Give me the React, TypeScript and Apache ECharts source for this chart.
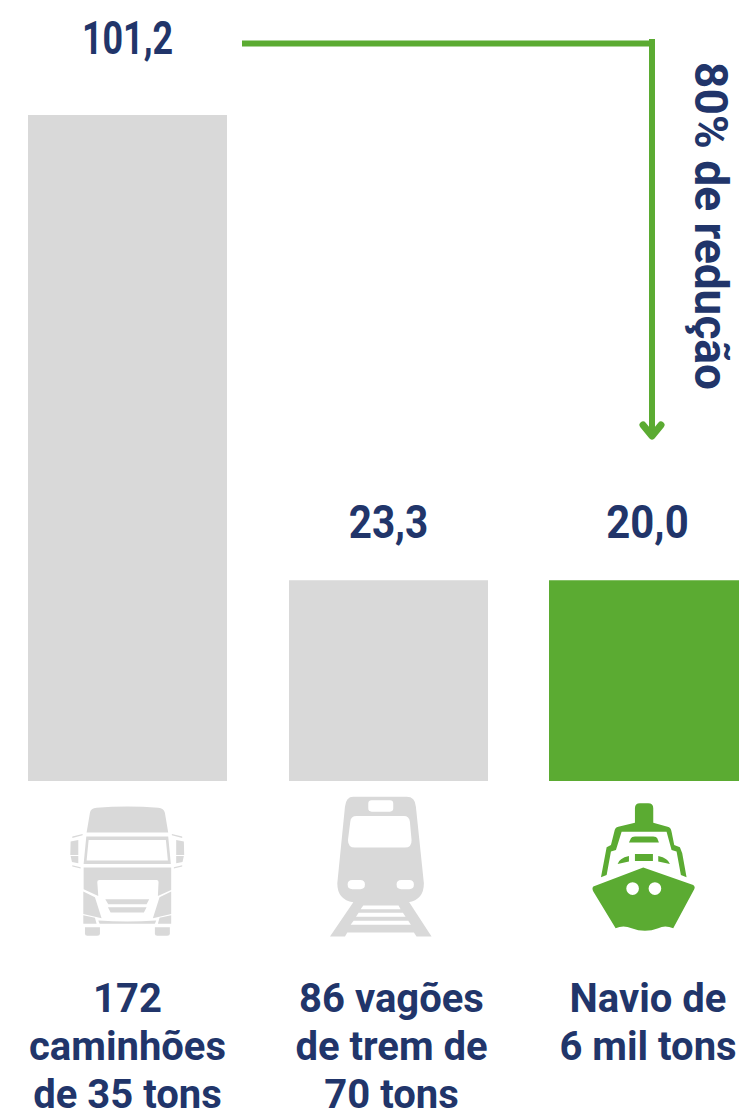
import React, { useEffect, useRef } from "react";
import * as echarts from "echarts";

const categories = ["172\ncaminhões\nde 35 tons", "86 vagões\nde trem de\n70 tons", "Navio de\n6 mil tons"];
const valueLabels = ["101,2", "23,3", "20,0"];
// Bar heights as drawn in the picture (the two short bars are equal there)
const drawnHeights = [101.2, 30.5, 30.5];
const annotation = "80% de redução";

const NAVY = "#21356a";
const GREEN = "#5bab32";
const GRAY = "#d9d9d9";
const FONT = "Roboto";

const truckPath = [
  "M140 128 L150 68 Q152 55 170 53 Q262 46 355 53 Q372 55 375 68 L385 128 Z",
  "M139 140 L385 140 L393 222 L131 222 Z M146 150 L140 212 L384 212 L378 150 Z",
  "M131 233 H394 V300 L354 318 L356 276 Q356 270 350 270 H178 Q172 270 172 276 L175 318 L131 298 Z",
  "M130 305 L165 322 L185 385 L130 372 Z M394 305 L394 372 L339 385 L359 322 Z",
  "M130 376 L165 384 L170 402 L130 402 Z M394 376 L394 402 L354 402 L359 384 Z",
  "M175 392 Q262 398 349 392 L345 402 H179 Z",
  "M196 328 H328 L320 343 H205 Z M204 352 H320 L312 368 H212 Z",
  "M135 412 H180 V432 Q180 438 172 438 H142 Q135 438 135 432 Z M345 412 H390 V432 Q390 438 382 438 H352 Q345 438 345 432 Z",
  "M92 155 L115 150 V195 H91 Z M92 198 H115 V220 L96 216 Z M97 140 L128 132 V136 L97 144 Z M97 226 L122 232 V236 L97 230 Z",
  "M409 150 L432 155 L433 195 H409 Z M409 198 H432 L428 216 L409 220 Z M396 132 L427 140 V144 L396 136 Z M402 232 L427 226 V230 L402 236 Z",
].join(" ");

const trainPath = [
  "M130 35 H290 Q316 35 318 65 L342 295 Q342 345 295 352 H130 Q82 345 82 295 L105 65 Q108 35 130 35 Z",
  "M185 46 Q175 46 175 56 V70 Q175 80 185 80 H240 Q250 80 250 70 V56 Q250 46 240 46 Z",
  "M140 93 Q122 93 121 110 L114 165 Q114 188 135 188 H285 Q306 188 305 165 L300 110 Q298 93 282 93 Z",
  "M127 285 Q113 285 113 299 Q113 313 127 313 H151 Q165 313 165 299 Q165 285 151 285 Z",
  "M274 285 Q260 285 260 299 Q260 313 274 313 H298 Q312 313 312 299 Q312 285 298 285 Z",
  "M130 352 H298 L365 455 H320 L312 443 H112 L105 455 H60 Z",
  "M160 362 L152 373 H272 L266 362 Z M146 384 L138 396 H287 L279 384 Z M131 408 L122 420 H303 L295 408 Z",
].join(" ");

const shipPath = [
  "M180 98 V55 Q180 40 195 40 H220 Q235 40 235 55 V98 L278 110 Q288 112 290 125 L298 165 L315 172 L322 190 L335 262 L318 255 L305 185 L290 180 L275 125 H140 L123 180 L108 185 L95 255 L78 262 L95 172 L108 165 L118 125 Q120 112 130 110 Z",
  "M162 158 L168 145 Q170 140 180 140 H235 Q245 140 247 145 L252 158 Z",
  "M128 222 Q132 205 162 198 V215 Z M180 192 H234 V213 H180 Z M250 198 Q280 205 285 222 L250 215 Z",
  "M55 290 L205 233 L355 285 Q362 290 358 298 L295 415 Q270 405 250 415 Q210 430 170 415 Q145 405 122 415 L55 305 Q50 295 55 290 Z",
  "M192 296 A19 19 0 0 0 154 296 A19 19 0 0 0 192 296 Z M259 296 A19 19 0 0 0 221 296 A19 19 0 0 0 259 296 Z",
].join(" ");

echarts.graphic.registerShape("truckIcon", echarts.graphic.extendPath(truckPath, {}));
echarts.graphic.registerShape("trainIcon", echarts.graphic.extendPath(trainPath, {}));
echarts.graphic.registerShape("shipIcon", echarts.graphic.extendPath(shipPath, {}));

const gridBoxes = [
  { left: 28, width: 199 },
  { left: 289, width: 199 },
  { left: 549, width: 190 },
];
const labelTweak = [
  { distance: 77, dx: 0, squeeze: 0.78, pad: [0, 0, 0, 0] },
  { distance: 58, dx: 0, squeeze: 0.88, pad: [0, 0, 0, 6] },
  { distance: 58, dx: 3.5, squeeze: 0.91, pad: [0, 0, 0, 8] },
];

export default function App() {
  const ref = useRef<HTMLDivElement>(null);
  useEffect(() => {
    document.body.style.margin = "0";
    const chart = echarts.init(ref.current!, undefined, { renderer: "svg" });
    const grids = gridBoxes.map((b) => ({ left: b.left, width: b.width, top: 115, height: 666, outerBoundsMode: "none" }));
    const barSeries = categories.map((_, i) => ({
      type: "bar",
      xAxisIndex: i,
      yAxisIndex: i,
      barWidth: "100%",
      data: [drawnHeights[i]],
      itemStyle: { color: i === 2 ? GREEN : GRAY },
    }));
    const valueSeries = categories.map((_, i) => ({
      type: "custom",
      xAxisIndex: i,
      yAxisIndex: i,
      silent: true,
      data: [[0, drawnHeights[i]]],
      renderItem: (_p: any, api: any) => {
        const top = api.coord([api.value(0), api.value(1)]);
        return {
          type: "text",
          x: top[0] + labelTweak[i].dx,
          y: top[1] - labelTweak[i].distance,
          scaleX: labelTweak[i].squeeze,
          style: {
            text: valueLabels[i],
            fill: NAVY,
            font: `700 46px ${FONT}`,
            textAlign: "center",
            textVerticalAlign: "middle",
          },
        };
      },
    }));
    chart.setOption({
      animation: false,
      grid: grids,
      xAxis: categories.map((c, i) => ({
        type: "category",
        gridIndex: i,
        data: [c],
        axisLine: { show: false },
        axisTick: { show: false },
        axisLabel: {
          interval: 0,
          margin: 193,
          color: NAVY,
          fontFamily: FONT,
          fontWeight: 700,
          fontSize: 40,
          lineHeight: 48,
          padding: labelTweak[i].pad,
        },
      })),
      yAxis: categories.map((_, i) => ({
        type: "value",
        gridIndex: i,
        min: 0,
        max: 101.2,
        show: false,
      })),
      series: [...barSeries, ...valueSeries],
      graphic: [
        { type: "truckIcon", x: 40, y: 790, scaleX: 1 / 3, scaleY: 1 / 3, style: { fill: GRAY } },
        { type: "trainIcon", x: 310, y: 785, scaleX: 1 / 3, scaleY: 1 / 3, style: { fill: GRAY } },
        { type: "shipIcon", x: 575, y: 790, scaleX: 1 / 3, scaleY: 1 / 3, style: { fill: GREEN } },
        { type: "line", shape: { x1: 242, y1: 43.5, x2: 652, y2: 43.5 }, style: { stroke: GREEN, lineWidth: 6 } },
        { type: "line", shape: { x1: 652, y1: 39, x2: 652, y2: 436 }, style: { stroke: GREEN, lineWidth: 6 } },
        {
          type: "polyline",
          shape: { points: [[643, 425], [652, 436], [661, 425]] },
          style: { stroke: GREEN, lineWidth: 7, fill: "none", lineCap: "round", lineJoin: "round" },
        },
        {
          type: "text",
          x: 711,
          y: 226,
          rotation: -Math.PI / 2,
          style: {
            text: annotation,
            fill: NAVY,
            font: `700 46px ${FONT}`,
            textAlign: "center",
            textVerticalAlign: "middle",
          },
        },
      ],
    });
    return () => chart.dispose();
  }, []);
  return <div ref={ref} style={{ width: 739, height: 1109 }} />;
}
